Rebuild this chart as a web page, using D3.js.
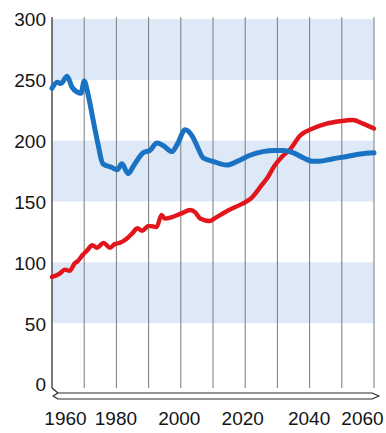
<!DOCTYPE html>
<html>
<head>
<meta charset="utf-8">
<script src="https://cdn.jsdelivr.net/npm/d3@7"></script>
<style>
  html, body { margin: 0; padding: 0; background: #fff; }
  svg { display: block; }
  .lbl { font-family: "Liberation Sans Narrow", "Arial Narrow", "Liberation Sans", sans-serif; font-size: 19px; fill: #151515; }
</style>
</head>
<body>
<svg id="chart" width="386" height="433"></svg>
<script>
// Index series (annual history plus projection)
const blueYears  = [1960, 1961.6, 1962.8, 1964.7, 1966.2, 1967.8, 1969, 1970, 1971.2, 1972.7, 1974.3, 1975.8, 1978.6, 1980.2, 1981.7, 1983.6, 1985.5, 1988.3, 1990.4, 1992.6, 1994.5, 1997.3, 1999.1, 2001.3, 2003.5, 2005, 2006.9, 2010, 2014.3, 2017.5, 2021.5, 2025.5, 2029, 2032, 2035, 2038, 2041, 2043, 2047, 2051.6, 2055.7, 2060];
const blueValues = [243, 248, 247, 253, 244, 240, 239, 249, 238, 218, 197, 181, 178, 176, 181, 173, 180, 190, 192, 198, 196, 191, 198, 209, 204, 196, 186, 183, 180, 183, 188, 191, 192, 192, 190, 186, 183, 183, 185, 187, 189, 190];

const redYears  = [1960, 1962.5, 1964, 1965.5, 1967, 1968, 1969.5, 1971, 1972.5, 1974, 1976, 1978, 1979.5, 1981, 1983, 1985, 1986.5, 1988, 1990, 1992.5, 1994, 1995, 1997, 2000, 2003, 2004.5, 2006, 2009, 2011, 2015, 2019, 2022, 2025, 2027, 2029, 2031.5, 2034, 2037, 2041, 2045.3, 2049.4, 2053.4, 2056.5, 2060];
const redValues = [88, 91, 94, 93, 99, 101, 106, 110, 114, 112, 116, 112, 115, 116, 119, 124, 128, 126, 130, 129, 139, 136, 137, 140, 143, 141, 136, 134, 137, 143, 148, 153, 163, 170, 179, 187, 193, 204, 210, 214, 216, 217, 214, 210];

const yTicks = [0, 50, 100, 150, 200, 250, 300];
const xTicks = [1960, 1980, 2000, 2020, 2040, 2060];
const gridYears = [1970, 1980, 1990, 2000, 2010, 2020, 2030, 2040, 2050, 2060];
const bands = [[250, 300], [150, 200], [50, 100]];

const svg = d3.select("#chart");
const x = d3.scaleLinear().domain([1960, 2060]).range([52, 374]);
const y = d3.scaleLinear().domain([0, 300]).range([384, 19]);

// shaded bands
svg.append("g").selectAll("rect").data(bands).join("rect")
  .attr("x", x(1960)).attr("width", x(2060) - x(1960))
  .attr("y", d => y(d[1])).attr("height", d => y(d[0]) - y(d[1]))
  .attr("fill", "#dde9f6");

// vertical grid lines
svg.append("g").selectAll("line").data(gridYears).join("line")
  .attr("x1", d => x(d)).attr("x2", d => x(d))
  .attr("y1", 17).attr("y2", 388)
  .attr("stroke", "#7a7a7a").attr("stroke-width", 1);

// y axis line
svg.append("line").attr("x1", x(1960)).attr("x2", x(1960))
  .attr("y1", 17).attr("y2", 388)
  .attr("stroke", "#333").attr("stroke-width", 1.3);

// y axis labels
const yAxis = d3.axisLeft(y).tickValues(yTicks).tickSize(0).tickPadding(6);
const gy = svg.append("g").attr("transform", `translate(${x(1960)},0)`).call(yAxis);
gy.select(".domain").remove();
gy.selectAll("text").attr("class", "lbl").attr("font-size", null).attr("font-family", null).attr("dy", "0.36em");

// base ribbon under the plot
const x0 = x(1960), x1 = x(2060);
svg.append("path")
  .attr("d", `M${x0},388 L${x0 + 6},393 L${x1 - 2},393 L${x1 + 5},396 L${x1 - 2},399 L${x0 + 6},399 L${x0 + 1},396 L${x0 + 6},393`)
  .attr("fill", "#fff").attr("stroke", "#2a2a2a").attr("stroke-width", 1.2).attr("stroke-linejoin", "round");

// x axis labels
const xAxis = d3.axisBottom(x).tickValues(xTicks).tickSize(0).tickPadding(0).tickFormat(d3.format("d"));
const gx = svg.append("g").attr("transform", "translate(0,411)").call(xAxis);
gx.select(".domain").remove();
gx.selectAll("text").attr("class", "lbl").attr("font-size", null).attr("font-family", null)
  .attr("dy", "0.72em")
  .attr("dx", d => d === 1960 ? 13 : d === 2060 ? -12 : (d === 1980 ? -1 : d === 2000 ? -2 : d === 2020 ? -3 : -1));

// series lines
const line = d3.line().x(d => x(d[0])).y(d => y(d[1])).curve(d3.curveMonotoneX);
svg.append("path").datum(redYears.map((d, i) => [d, redValues[i]]))
  .attr("d", line).attr("fill", "none").attr("stroke", "#e2141c")
  .attr("stroke-width", 4.4).attr("stroke-linejoin", "round").attr("stroke-linecap", "round");
svg.append("path").datum(blueYears.map((d, i) => [d, blueValues[i]]))
  .attr("d", line).attr("fill", "none").attr("stroke", "#1a72c2")
  .attr("stroke-width", 5).attr("stroke-linejoin", "round").attr("stroke-linecap", "round");
</script>
</body>
</html>
